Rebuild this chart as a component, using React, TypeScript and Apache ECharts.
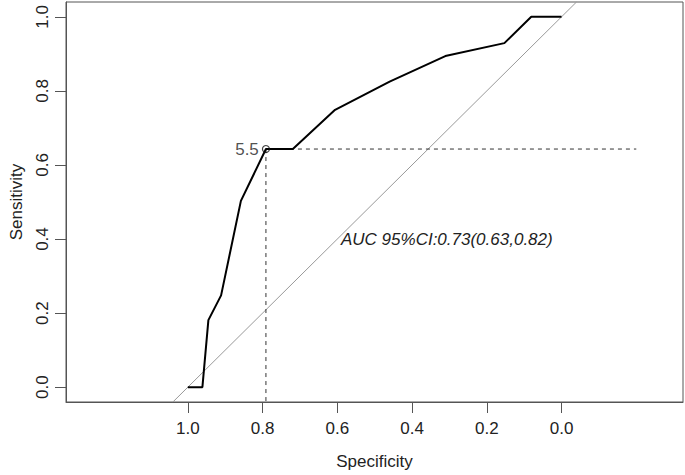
import React, { useEffect, useRef } from "react";
import * as echarts from "echarts";

const specificity = [1.0, 0.961, 0.945, 0.911, 0.858, 0.791, 0.719, 0.606, 0.46, 0.311, 0.153, 0.081, 0.0];
const sensitivity = [0, 0, 0.181, 0.248, 0.503, 0.643, 0.643, 0.749, 0.825, 0.894, 0.929, 1.0, 1.0];
const tickValues = [0, 0.2, 0.4, 0.6, 0.8, 1.0];
const thresholdLabel = "5.5";
const thresholdPoint = [0.791, 0.643];
const thresholdLineEnd = -0.2;
const aucText = "AUC 95%CI:0.73(0.63,0.82)";

const FONT = '"Liberation Sans", Arial, sans-serif';

export default function App() {
  const ref = useRef<HTMLDivElement>(null);
  useEffect(() => {
    const chart = echarts.init(ref.current!, null, { renderer: "svg" });
    const curve = specificity.map((s, i) => [s, sensitivity[i]]);
    const xMin = -0.325, xMax = 1.326, yMin = -0.04, yMax = 1.04;
    chart.setOption({
      animation: false,
      backgroundColor: "#ffffff",
      textStyle: { fontFamily: FONT },
      grid: {
        left: 66, top: 2, width: 617, height: 402,
        show: true, borderColor: "#555", borderWidth: 1, backgroundColor: "transparent",
      },
      xAxis: {
        type: "value", inverse: true, min: xMin, max: xMax,
        name: "Specificity", nameLocation: "middle", nameGap: 51,
        nameTextStyle: { fontSize: 17, color: "#222", fontFamily: FONT },
        splitLine: { show: false },
        axisLine: { show: true, onZero: false, lineStyle: { color: "#555", width: 1 } },
        axisTick: { show: true, length: 11, inside: false, customValues: tickValues, lineStyle: { color: "#555" } },
        axisLabel: {
          customValues: tickValues, fontSize: 17, color: "#222", margin: 18, fontFamily: FONT,
          formatter: (v: number) => v.toFixed(1),
        },
      },
      yAxis: {
        type: "value", min: yMin, max: yMax,
        name: "Sensitivity", nameLocation: "middle", nameGap: 41,
        nameTextStyle: { fontSize: 17, color: "#222", fontFamily: FONT },
        splitLine: { show: false },
        axisLine: { show: true, onZero: false, lineStyle: { color: "#555", width: 1 } },
        axisTick: { show: true, length: 11, inside: false, customValues: tickValues, lineStyle: { color: "#555" } },
        axisLabel: {
          customValues: tickValues, fontSize: 17, color: "#222", margin: 15, rotate: 90, fontFamily: FONT,
          formatter: (v: number) => v.toFixed(1),
        },
      },
      series: [
        {
          type: "line", data: [[1 - yMin, yMin], [1 - yMax, yMax]],
          symbol: "none", lineStyle: { color: "#999999", width: 1 }, z: 1, silent: true,
        },
        {
          type: "line", data: [[thresholdPoint[0], thresholdPoint[1]], [thresholdLineEnd, thresholdPoint[1]]],
          symbol: "none", lineStyle: { color: "#333", width: 1, type: [4, 4] }, z: 2, silent: true,
        },
        {
          type: "line", data: [[thresholdPoint[0], thresholdPoint[1]], [thresholdPoint[0], yMin]],
          symbol: "none", lineStyle: { color: "#333", width: 1, type: [4, 4] }, z: 2, silent: true,
        },
        {
          type: "line", data: curve, symbol: "none",
          lineStyle: { color: "#000", width: 2 }, z: 3, silent: true,
        },
        {
          type: "scatter", data: [thresholdPoint], symbol: "circle", symbolSize: 7,
          itemStyle: { color: "rgba(255,255,255,0)", borderColor: "#111", borderWidth: 1.2 }, z: 10,
          label: {
            show: true, position: "left", distance: 3, formatter: thresholdLabel,
            fontSize: 17, color: "#222", fontFamily: FONT,
          },
        },
      ],
      graphic: [
        {
          type: "text", left: 341, top: 231,
          style: { text: aucText, fontSize: 17, fontStyle: "italic", fill: "#222", fontFamily: FONT },
        },
      ],
    });
    return () => chart.dispose();
  }, []);
  return <div ref={ref} style={{ position: "fixed", left: 0, top: 0, width: 685, height: 475 }} />;
}
